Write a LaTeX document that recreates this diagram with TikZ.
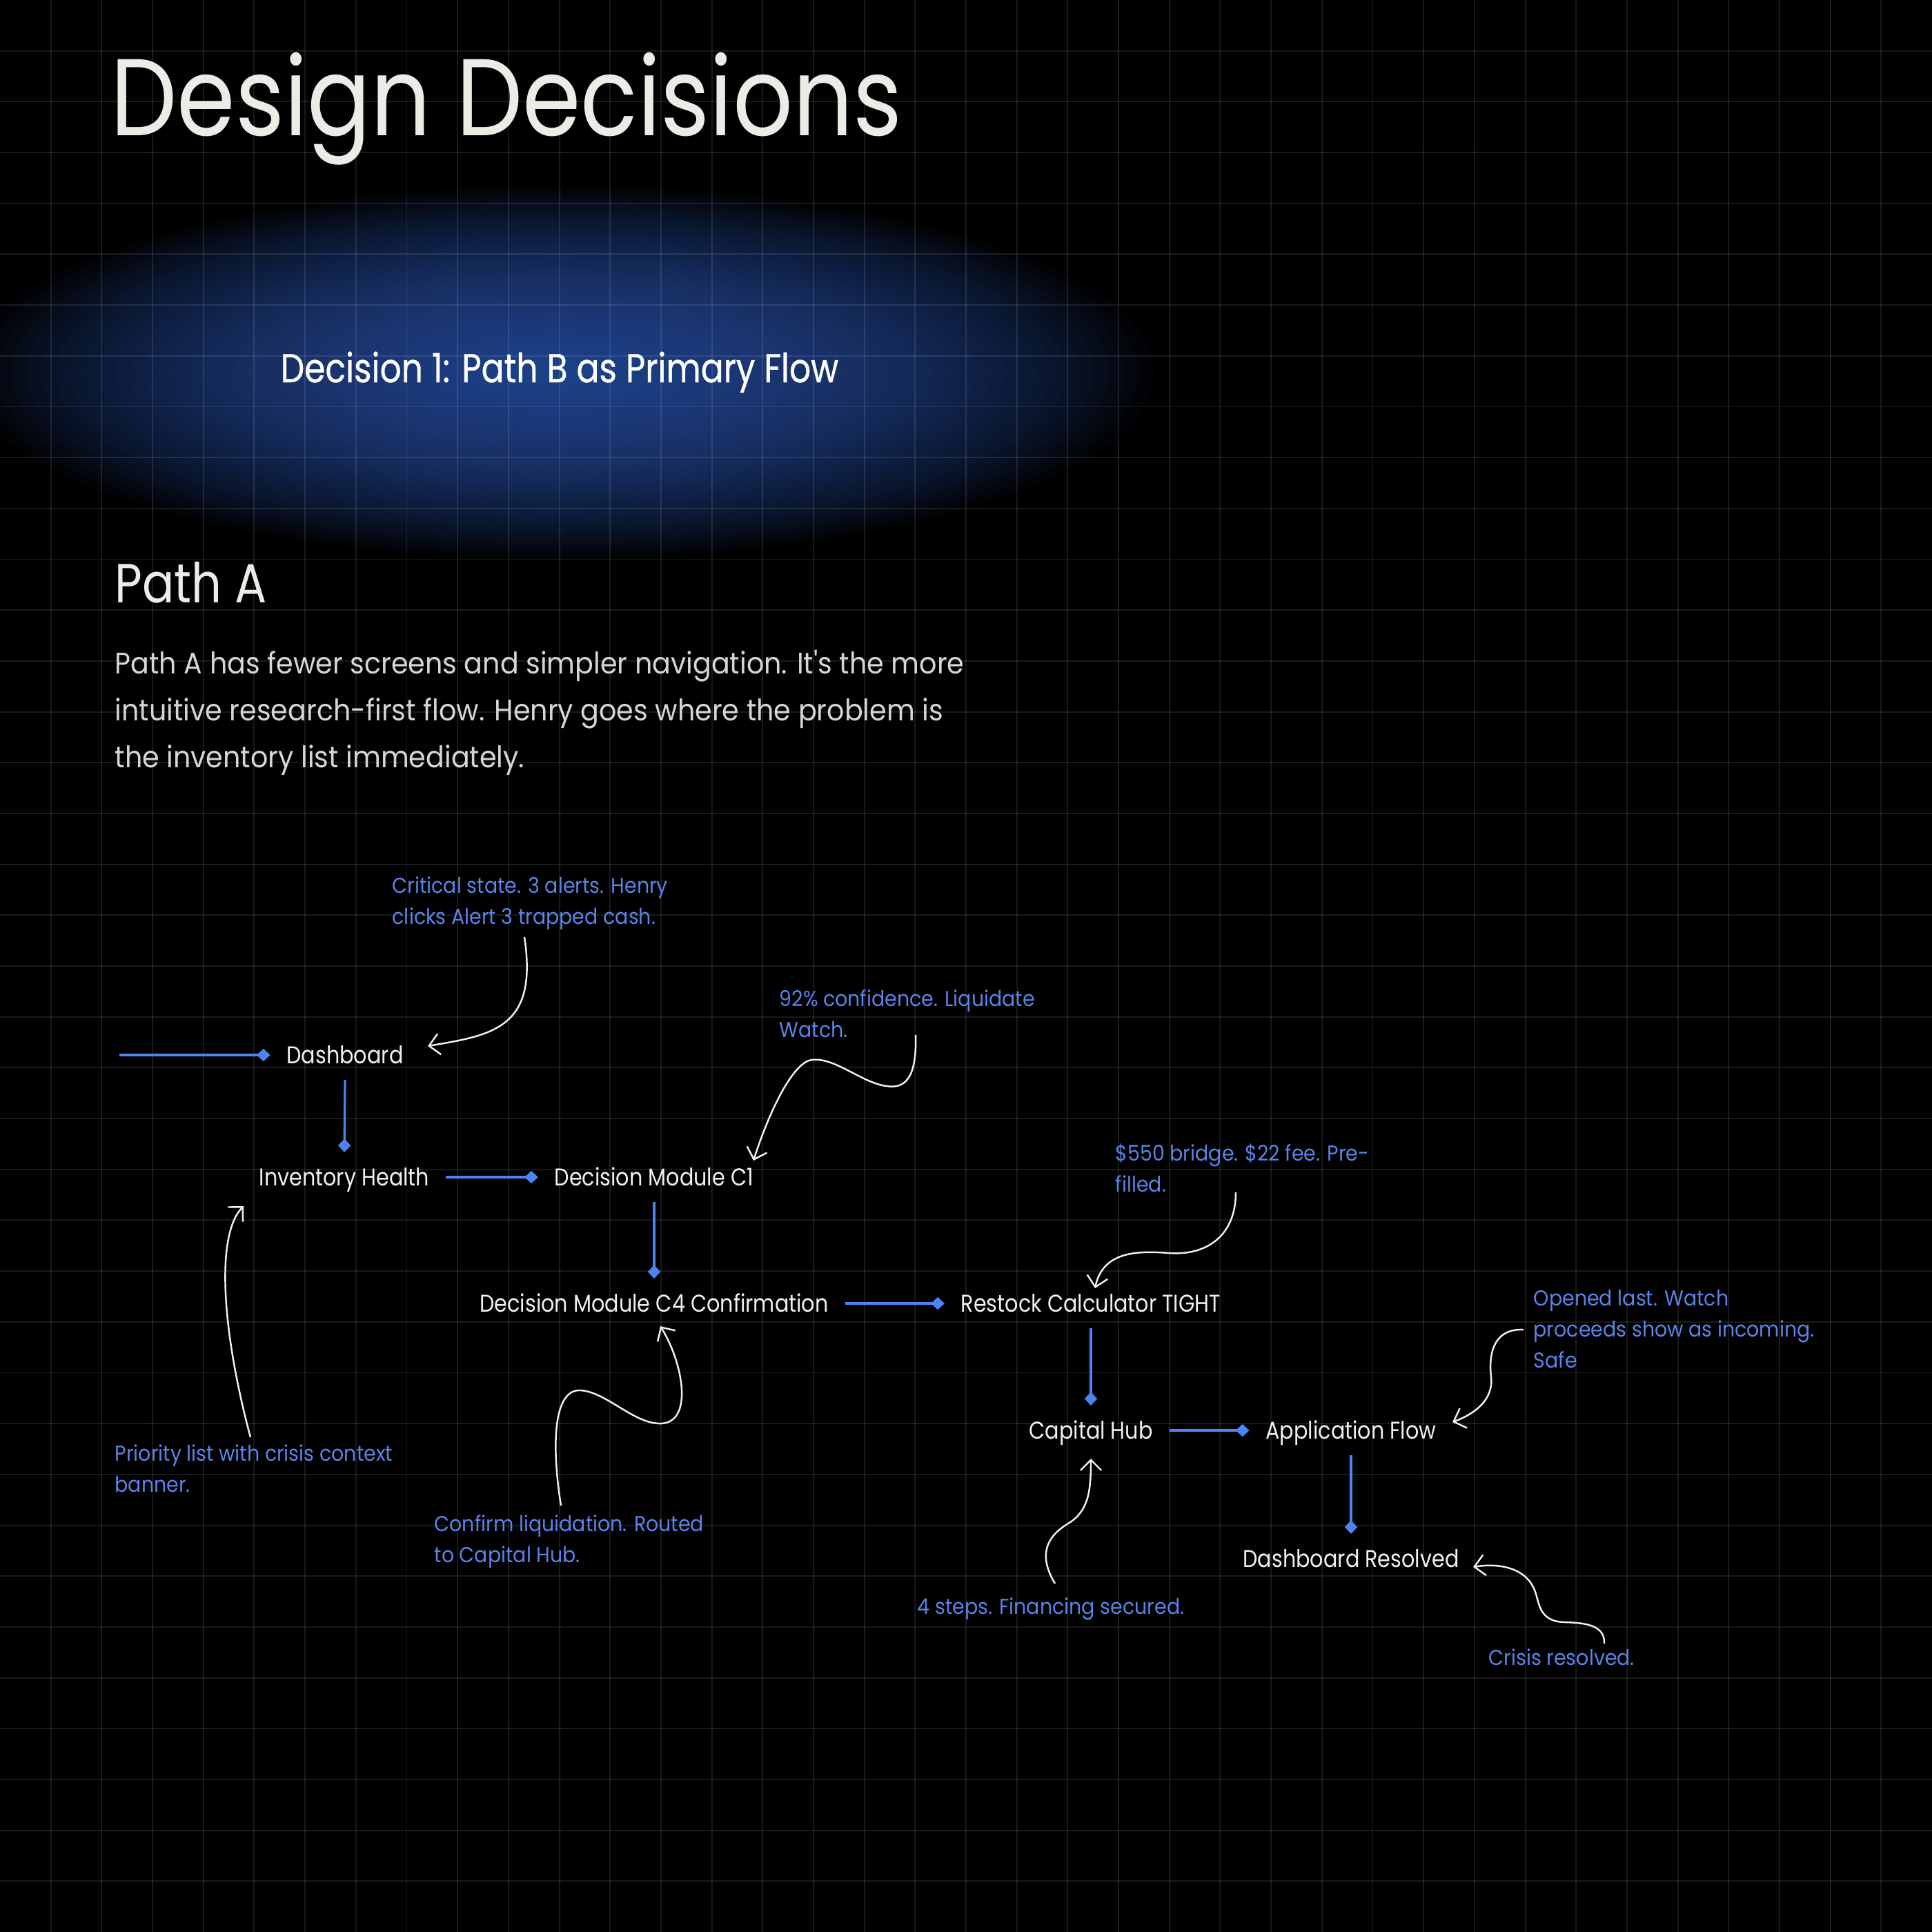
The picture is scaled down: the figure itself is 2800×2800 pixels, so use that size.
\documentclass[tikz,border=0pt]{standalone}
\usepackage{graphicx}
\usepackage{fontspec}
\setmainfont{Poppins}[FakeStretch=0.86]
\newfontfamily\subfont{Poppins}[FakeStretch=0.86,FakeBold=0.6]
\newfontfamily\parafont{Poppins}[FakeStretch=0.92]
\newfontfamily\notefont{Poppins}[FakeStretch=0.91]
\usetikzlibrary{arrows.meta}
\definecolor{bg}{RGB}{0,0,0}
\definecolor{titlecol}{RGB}{237,235,230}
\definecolor{paracol}{RGB}{215,214,210}
\definecolor{nodecol}{RGB}{240,240,238}
\definecolor{flowblue}{RGB}{76,132,245}
\definecolor{notecol}{RGB}{90,132,232}
\definecolor{curvecol}{RGB}{240,240,236}
\definecolor{glowcol}{RGB}{50,90,176}
\tikzset{
  gridline/.style={draw=white, draw opacity=0.10, line width=0.55pt},
  stage/.style={inner sep=0pt, outer sep=6.8pt, text=nodecol,
    font=\fontsize{10pt}{12pt}\selectfont, text height=6.9pt, text depth=0pt},
  note/.style={inner sep=0pt, anchor=base west, text=notecol, align=left,
    font=\notefont\fontsize{8.9pt}{12.76pt}\selectfont},
  flow/.style={draw=flowblue, line width=0.9pt,
    -{Diamond[length=5.6pt,width=5.2pt]}},
  remark/.style={draw=curvecol, line width=0.7pt,
    -{Straight Barb[length=4.3pt,width=8.6pt]}},
  paraline/.style={inner sep=0pt, anchor=base west, text=paracol,
    font=\parafont\fontsize{12.25pt}{19.3pt}\selectfont}
}
\begin{document}
\begin{tikzpicture}[x=0.01cm,y=-0.01cm]
\useasboundingbox (0,0) rectangle (2800,2800);
\fill[bg] (0,0) rectangle (2800,2800);
% glow
\foreach \k in {1,...,40}{
  \fill[glowcol, fill opacity=0.045] (812,540) ellipse [x radius={21.5*\k}, y radius={6.75*\k}];
}
% grid
\foreach \i in {1,...,37}{
  \draw[gridline] (\i*73.684,0) -- (\i*73.684,2800);
  \draw[gridline] (0,\i*73.684) -- (2800,\i*73.684);
}
% headings
\node[inner sep=0pt, anchor=base west, text=titlecol,
  font=\fontsize{45pt}{54pt}\selectfont] (title) at (160,197) {Design Decisions};
\node[inner sep=0pt, anchor=base west, text=white,
  font=\subfont\fontsize{16.6pt}{20pt}\selectfont] (sub) at (406,554)
  {\resizebox{8.08cm}{\height}{Decision 1: Path B as Primary Flow}};
\node[inner sep=0pt, anchor=base west, text=titlecol,
  font=\fontsize{22.7pt}{27pt}\selectfont] (patha) at (166,873) {Path A};
\node[paraline] (p1) at (166,976) {Path A has fewer screens and simpler navigation. It's the more};
\node[paraline] (p2) at (166,1044) {intuitive research-first flow. Henry goes where the problem is};
\node[paraline] (p3) at (166,1112) {the inventory list immediately.};
% stages
\node[stage] (dash) at (500,1529) {Dashboard};
\node[stage] (inv)  at (499,1706) {Inventory Health};
\node[stage] (c1)   at (948,1706) {Decision Module C1};
\node[stage] (c4)   at (948,1889) {Decision Module C4 Confirmation};
\node[stage] (rest) at (1581,1889) {Restock Calculator TIGHT};
\node[stage] (cap)  at (1581,2073) {Capital Hub};
\node[stage] (app)  at (1958,2073) {Application Flow};
\node[stage] (dres) at (1958,2259) {Dashboard Resolved};
\coordinate (entry) at (173,1529);
% flow connectors
\draw[flow] (entry) -- (dash.west);
\draw[flow] (dash.south) -- (inv.north);
\draw[flow] (inv.east) -- (c1.west);
\draw[flow] (c1.south) -- (c4.north);
\draw[flow] (c4.east) -- (rest.west);
\draw[flow] (rest.south) -- (cap.north);
\draw[flow] (cap.east) -- (app.west);
\draw[flow] (app.south) -- (dres.north);
% notes (anchor = baseline of last line)
\node[note] (n1) at (568,1339) {Critical state. 3 alerts. Henry\\clicks Alert 3 trapped cash.};
\node[note] (n2) at (1129,1503) {92\% confidence. Liquidate\\Watch.};
\node[note] (n3) at (1616,1727) {\$550 bridge. \$22 fee. Pre-\\filled.};
\node[note] (n4) at (2222,1982) {Opened last. Watch\\proceeds show as incoming.\\Safe};
\node[note] (n5) at (166,2162) {Priority list with crisis context\\banner.};
\node[note] (n6) at (629,2264) {Confirm liquidation. Routed\\to Capital Hub.};
\node[note] (n7) at (1329,2339) {4 steps. Financing secured.};
\node[note] (n8) at (2157,2413) {Crisis resolved.};
% remark curve endpoints
\coordinate (r1s) at (760,1358);  \coordinate (r1e) at (620,1516);
\coordinate (r2s) at (1327,1500); \coordinate (r2e) at (1092,1682);
\coordinate (r3s) at (1791,1728); \coordinate (r3e) at (1587,1867);
\coordinate (r4s) at (2208,1927); \coordinate (r4e) at (2105,2061);
\coordinate (r5s) at (363,2083);  \coordinate (r5e) at (353,1748);
\coordinate (r6s) at (813,2182);  \coordinate (r6e) at (957,1922);
\coordinate (r7s) at (1529,2295); \coordinate (r7e) at (1581,2114);
\coordinate (r8s) at (2325,2382); \coordinate (r8e) at (2135,2271);
% remark curves
\draw[remark] (r1s) .. controls (780,1490) and (715,1500) .. (r1e);
\draw[remark] (r2s) .. controls (1329,1565) and (1310,1578) .. (1285,1574)
  .. controls (1250,1570) and (1210,1532) .. (1177,1536)
  .. controls (1150,1538) and (1115,1610) .. (r2e);
\draw[remark] (r3s) .. controls (1791,1790) and (1750,1820) .. (1694,1816)
  .. controls (1645,1812) and (1598,1815) .. (r3e);
\draw[remark] (r4s) .. controls (2160,1925) and (2158,1970) .. (2161,1995)
  .. controls (2165,2030) and (2135,2050) .. (r4e);
\draw[remark] (r5s) .. controls (322,1930) and (312,1790) .. (r5e);
\draw[remark] (r6s) .. controls (800,2100) and (800,2012) .. (842,2015)
  .. controls (880,2018) and (920,2065) .. (959,2063)
  .. controls (1005,2060) and (990,1975) .. (r6e);
\draw[remark] (r7s) .. controls (1505,2255) and (1515,2228) .. (1548,2208)
  .. controls (1578,2190) and (1581,2160) .. (r7e);
\draw[remark] (r8s) .. controls (2326,2356) and (2300,2352) .. (2268,2351)
  .. controls (2226,2350) and (2232,2318) .. (2222,2300)
  .. controls (2208,2272) and (2172,2265) .. (r8e);
\end{tikzpicture}
\end{document}
